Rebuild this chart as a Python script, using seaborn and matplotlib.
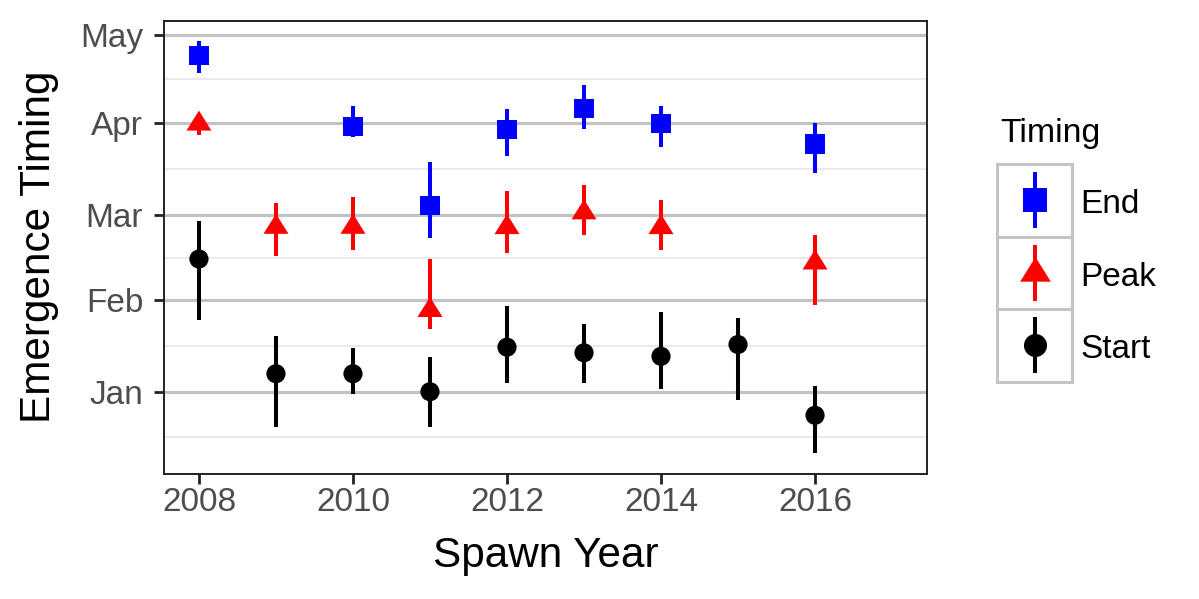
import numpy as np
import pandas as pd
import matplotlib
matplotlib.use("Agg")
import matplotlib.pyplot as plt
from matplotlib.path import Path
from matplotlib.patches import Rectangle
import seaborn as sns

# ---------------- data (days since Jan 1, leap-year calendar) ----------------
end_years = [2008, 2010, 2011, 2012, 2013, 2014, 2016]
end_mid = [114.1, 90.0, 63.1, 89.0, 96.0, 91.0, 84.0]
end_lo = [108.1, 86.2, 52.0, 80.0, 89.0, 83.0, 74.0]
end_hi = [118.8, 96.9, 77.9, 96.0, 104.0, 97.0, 91.0]

peak_years = [2008, 2009, 2010, 2011, 2012, 2013, 2014, 2016]
peak_mid = [90.8, 55.8, 55.8, 27.6, 55.7, 60.7, 55.7, 43.7]
peak_lo = [87.2, 46.1, 48.1, 21.2, 47.1, 53.1, 48.0, 29.3]
peak_hi = [93.5, 64.0, 66.0, 44.9, 67.9, 70.0, 65.0, 53.1]

start_years = [2008, 2009, 2010, 2011, 2012, 2013, 2014, 2015, 2016]
start_mid = [45.0, 6.1, 6.1, 0.0, 15.1, 13.2, 12.0, 16.0, -8.0]
start_lo = [24.2, -12.0, -0.9, -12.0, 3.0, 3.0, 1.0, -2.9, -20.9]
start_hi = [57.9, 18.9, 14.9, 11.9, 28.9, 23.0, 26.9, 24.9, 1.9]

month_labels = ["Jan", "Feb", "Mar", "Apr", "May"]
month_days = [0, 31, 60, 91, 121]
minor_days = [-15.5, 15.5, 45.5, 75.5, 106]
year_ticks = [2008, 2010, 2012, 2014, 2016]
levels = ["End", "Peak", "Start"]
colors = {"End": "#0000FF", "Peak": "#FF0000", "Start": "#000000"}

# ---------------- long table ----------------
frames = []
for name, yrs, mid, lo, hi in [("End", end_years, end_mid, end_lo, end_hi),
                               ("Peak", peak_years, peak_mid, peak_lo, peak_hi),
                               ("Start", start_years, start_mid, start_lo, start_hi)]:
    frames.append(pd.DataFrame({"Year": yrs, "Day": mid, "Lo": lo, "Hi": hi, "Timing": name}))
df = pd.concat(frames, ignore_index=True)

tri = Path([(0, 0.667), (-0.625, -0.333), (0.625, -0.333), (0, 0.667)],
           [Path.MOVETO, Path.LINETO, Path.LINETO, Path.CLOSEPOLY])
markers = {"End": "s", "Peak": tri, "Start": "o"}

sns.set_theme(style="white")
plt.rcParams["font.family"] = ["Liberation Sans", "DejaVu Sans"]

fig = plt.figure(figsize=(5.995, 2.995), dpi=200)
L, R, T, B = 164.3, 926.7, 20.7, 474.0
W, H = 1199.0, 599.0
ax = fig.add_axes([L / W, 1 - B / H, (R - L) / W, (B - T) / H])

# error bars
for name in levels:
    d = df[df.Timing == name]
    ax.vlines(d.Year, d.Lo, d.Hi, colors=colors[name], linewidth=1.45, zorder=3)

sns.scatterplot(data=df, x="Year", y="Day", hue="Timing", style="Timing",
                size="Timing", hue_order=levels, style_order=levels,
                palette=colors, markers=markers,
                sizes={"End": 6.9 ** 2, "Peak": 9.6 ** 2, "Start": 6.9 ** 2},
                linewidth=0, edgecolor="none", legend=False, ax=ax, zorder=4)

ax.set_xlim(2007.55, 2017.45)
ax.set_ylim(-27.9, 125.8)
ax.set_xticks(year_ticks)
ax.set_xticklabels([str(y) for y in year_ticks])
ax.set_yticks(month_days)
ax.set_yticklabels(month_labels)
ax.set_yticks(minor_days, minor=True)
ax.set_axisbelow(True)
ax.grid(False)
ax.grid(axis="y", which="major", color="#C2C2C2", linewidth=1.15)
ax.grid(axis="y", which="minor", color="#E3E3E3", linewidth=0.55)
ax.tick_params(axis="both", which="major", length=3.6, width=1.0, color="#222222",
               labelsize=12, labelcolor="#4D4D4D", left=True, bottom=True)
ax.tick_params(axis="x", pad=1.2)
ax.tick_params(axis="y", pad=4)
ax.tick_params(which="minor", length=0)
for s in ax.spines.values():
    s.set_color("#222222")
    s.set_linewidth(0.7)
ax.set_xlabel("")
ax.set_ylabel("")

fig.text((L + R) / 2 / W, 1 - 566.7 / H, "Spawn Year", ha="center", va="baseline",
         fontsize=15.2, color="black")
fig.text(50 / W, 1 - 247 / H, "Emergence Timing", ha="center", va="baseline",
         rotation=90, rotation_mode="anchor", fontsize=15.2, color="black")

# ---------------- legend ----------------
lx0, lx1, ly0, ly1 = 997.3, 1071.7, 164.0, 381.7
lax = fig.add_axes([lx0 / W, 1 - ly1 / H, (lx1 - lx0) / W, (ly1 - ly0) / H])
lax.set_xlim(0, 1)
lax.set_ylim(0, 3)
lax.axis("off")
leg_sizes = {"End": 8.3, "Peak": 11.8, "Start": 8.3}
for i, name in enumerate(levels):
    yb = 2 - i
    lax.add_patch(Rectangle((0, yb), 1, 1, facecolor="white", edgecolor="#C4C4C4",
                            linewidth=1.1, clip_on=False, zorder=1))
    lax.vlines(0.5, yb + 0.114, yb + 0.886, colors=colors[name], linewidth=1.45, zorder=2)
    lax.plot([0.5], [yb + 0.5], marker=markers[name], markersize=leg_sizes[name],
             color=colors[name], markeredgewidth=0, linestyle="none", zorder=3,
             clip_on=False)

fig.text(1000 / W, 1 - 142.3 / H, "Timing", ha="left", va="baseline", fontsize=12.2,
         color="black")
for name, base in zip(levels, [213.3, 286.0, 357.8]):
    fig.text(1080 / W, 1 - base / H, name, ha="left", va="baseline", fontsize=12,
             color="black")

fig.savefig("out.png", dpi=200)
